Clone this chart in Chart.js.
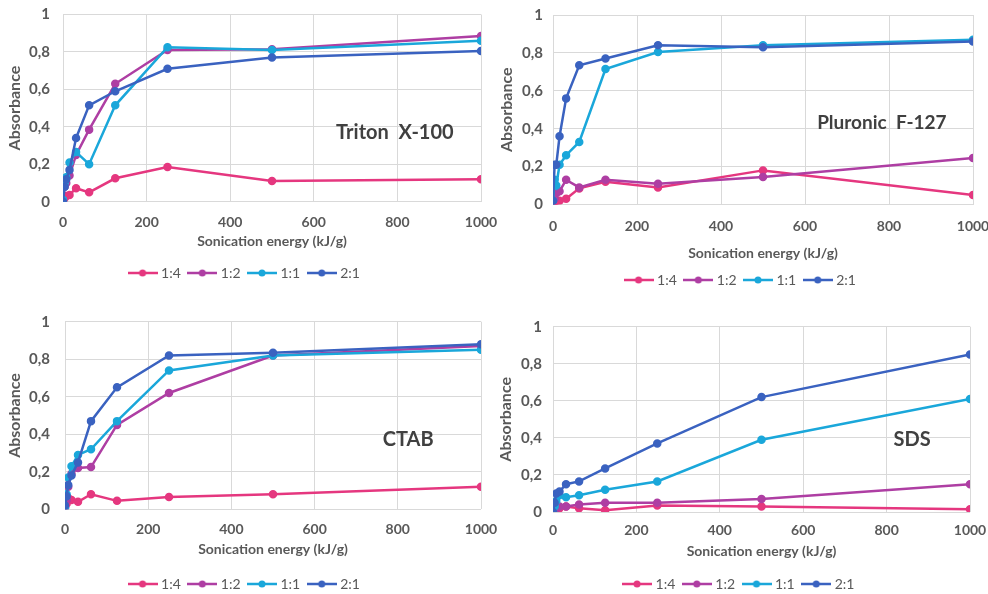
<!DOCTYPE html>
<html>
<head>
<meta charset="utf-8">
<script src="https://cdn.jsdelivr.net/npm/chart.js@4.4.1/dist/chart.umd.min.js"></script>
<style>
  body { margin: 0; background: #fff; overflow: hidden; }
  .panel { position: absolute; }
</style>
</head>
<body>
<div class="panel" style="left:0;top:0"><canvas id="c1" width="500" height="290"></canvas></div>
<div class="panel" style="left:496px;top:0"><canvas id="c2" width="492" height="297"></canvas></div>
<div class="panel" style="left:0;top:305px"><canvas id="c3" width="500" height="296"></canvas></div>
<div class="panel" style="left:496px;top:305px"><canvas id="c4" width="492" height="296"></canvas></div>
<script>
// sonication energy (kJ/g)
const energy = [0, 3.9, 7.8, 15.6, 31.25, 62.5, 125, 250, 500, 1000];
const ratios = ['1:4', '1:2', '1:1', '2:1'];
const colors = ['#e5377f', '#ae3ea3', '#1aa7da', '#3a62c0'];

const triton14 = [0, 0.02, 0.03, 0.036, 0.072, 0.05, 0.125, 0.185, 0.11, 0.12];
const triton12 = [0, 0.08, 0.1, 0.14, 0.25, 0.385, 0.63, 0.81, 0.815, 0.885];
const triton11 = [0.01, 0.1, 0.13, 0.21, 0.265, 0.2, 0.515, 0.825, 0.81, 0.86];
const triton21 = [0, 0.08, 0.12, 0.17, 0.34, 0.515, 0.59, 0.71, 0.77, 0.805];

const pluronic14 = [0.01, 0.01, 0.02, 0.02, 0.03, 0.085, 0.12, 0.09, 0.18, 0.05];
const pluronic12 = [0.02, 0.03, 0.06, 0.07, 0.13, 0.09, 0.13, 0.11, 0.145, 0.245];
const pluronic11 = [0.02, 0.13, 0.1, 0.21, 0.26, 0.33, 0.715, 0.805, 0.84, 0.87];
const pluronic21 = [0.02, 0.21, 0.21, 0.36, 0.56, 0.735, 0.77, 0.84, 0.83, 0.86];

const ctab14 = [0.01, 0.03, 0.06, 0.05, 0.04, 0.08, 0.045, 0.065, 0.08, 0.12];
const ctab12 = [0.01, 0.05, 0.12, 0.19, 0.22, 0.225, 0.45, 0.62, 0.82, 0.87];
const ctab11 = [0.01, 0.08, 0.17, 0.23, 0.29, 0.32, 0.47, 0.74, 0.82, 0.85];
const ctab21 = [0.02, 0.07, 0.13, 0.18, 0.25, 0.47, 0.65, 0.82, 0.835, 0.88];

const sds14 = [0, 0.01, 0.01, 0.02, 0.03, 0.02, 0.01, 0.035, 0.03, 0.015];
const sds12 = [0, 0.01, 0.02, 0.03, 0.03, 0.04, 0.05, 0.05, 0.07, 0.15];
const sds11 = [0, 0.03, 0.06, 0.09, 0.08, 0.09, 0.12, 0.165, 0.39, 0.61];
const sds21 = [0, 0.05, 0.1, 0.11, 0.15, 0.165, 0.235, 0.37, 0.62, 0.85];

const font = 'Lato';
const grey = '#595959';

// legend marker: short line with a dot
function legendMark(color) {
  const c = document.createElement('canvas');
  c.width = 30; c.height = 10;
  const g = c.getContext('2d');
  g.strokeStyle = color; g.lineWidth = 2.5;
  g.beginPath(); g.moveTo(0, 5); g.lineTo(30, 5); g.stroke();
  g.fillStyle = color;
  g.beginPath(); g.arc(15, 5, 3.5, 0, Math.PI * 2); g.fill();
  return c;
}

const panelLabel = {
  id: 'panelLabel',
  afterLayout(chart, args, opts) {
    // nudge legend sideways
    chart.legend.left += opts.legendShift;
    chart.legend.right += opts.legendShift;
  },
  afterDatasetsDraw(chart, args, opts) {
    const {ctx, scales} = chart;
    ctx.save();
    ctx.font = 'bold ' + opts.size + 'px ' + font;
    ctx.fillStyle = '#404040';
    ctx.textAlign = 'center';
    ctx.textBaseline = 'middle';
    ctx.fillText(opts.text, scales.x.getPixelForValue(opts.x), scales.y.getPixelForValue(opts.y));
    ctx.restore();
  }
};

function makePanel(id, series, label, lay) {
  new Chart(document.getElementById(id), {
    type: 'line',
    data: {
      datasets: series.map((vals, i) => ({
        label: ratios[i],
        data: vals.map((v, k) => ({x: energy[k], y: v})),
        borderColor: colors[i],
        backgroundColor: colors[i],
        borderWidth: 2.5,
        pointRadius: 3,
        pointHoverRadius: 3,
        tension: 0
      })).reverse()
    },
    options: {
      responsive: false,
      animation: false,
      layout: {padding: {left: 0, right: lay.right, top: lay.top, bottom: 0}},
      scales: {
        x: {
          type: 'linear', min: 0, max: 1000,
          ticks: {stepSize: 200, color: grey, padding: lay.tickPad, maxRotation: 0,
                  font: {family: font, size: 14, weight: 'bold'},
                  callback: v => String(v)},
          grid: {color: '#d9d9d9', drawTicks: false},
          border: {display: false},
          title: {display: true, text: 'Sonication energy (kJ/g)', color: grey,
                  font: {family: font, size: 14, weight: 'bold'},
                  padding: {top: 0, bottom: lay.titlePad}},
          afterFit(s) { s.height = lay.xh; s.paddingLeft = 0; s.paddingRight = 0; }
        },
        y: {
          min: 0, max: 1,
          ticks: {stepSize: 0.2, color: grey, padding: lay.yPad,
                  font: {family: font, size: 15, weight: 'bold'},
                  callback: v => String(Math.round(v * 10) / 10).replace('.', ',')},
          grid: {color: '#d9d9d9', drawTicks: false},
          border: {display: false},
          title: {display: true, text: 'Absorbance', color: grey,
                  font: {family: font, size: 16, weight: 'bold'},
                  padding: {top: lay.ytitle, bottom: 0}},
          afterFit(s) { s.width = lay.yw; s.paddingTop = 0; s.paddingBottom = 0; }
        }
      },
      plugins: {
        tooltip: {enabled: false},
        legend: {
          position: 'bottom',
          reverse: true,
          labels: {
            color: grey, font: {family: font, size: 14},
            usePointStyle: true, boxWidth: 23, pointStyleWidth: 23, padding: 10,
            generateLabels(chart) {
              return chart.data.datasets.map((d, i) => ({
                text: d.label, pointStyle: legendMark(d.borderColor),
                fontColor: grey, lineWidth: 0, datasetIndex: i
              }));
            }
          }
        },
        panelLabel: label
      }
    },
    plugins: [panelLabel]
  });
}

makePanel('c1', [triton14, triton12, triton11, triton21],
  {text: 'Triton  X-100', x: 794, y: 0.37, size: 20, legendShift: 5},
  {right: 19, top: 14.5, yw: 63, yPad: 13, ytitle: 5, xh: 54.3, tickPad: 12, titlePad: 6});
makePanel('c2', [pluronic14, pluronic12, pluronic11, pluronic21],
  {text: 'Pluronic  F-127', x: 783, y: 0.43, size: 19, legendShift: 7},
  {right: 15, top: 15, yw: 57, yPad: 10, ytitle: 1.5, xh: 58.5, tickPad: 14, titlePad: 1});
makePanel('c3', [ctab14, ctab12, ctab11, ctab21],
  {text: 'CTAB', x: 825, y: 0.37, size: 20, legendShift: 5},
  {right: 19, top: 16.7, yw: 65, yPad: 15, ytitle: 5, xh: 57.7, tickPad: 12, titlePad: 9});
makePanel('c4', [sds14, sds12, sds11, sds21],
  {text: 'SDS', x: 861, y: 0.39, size: 20, legendShift: 7},
  {right: 18, top: 21.7, yw: 57, yPad: 11, ytitle: 0, xh: 55, tickPad: 10, titlePad: 7});
</script>
</body>
</html>
